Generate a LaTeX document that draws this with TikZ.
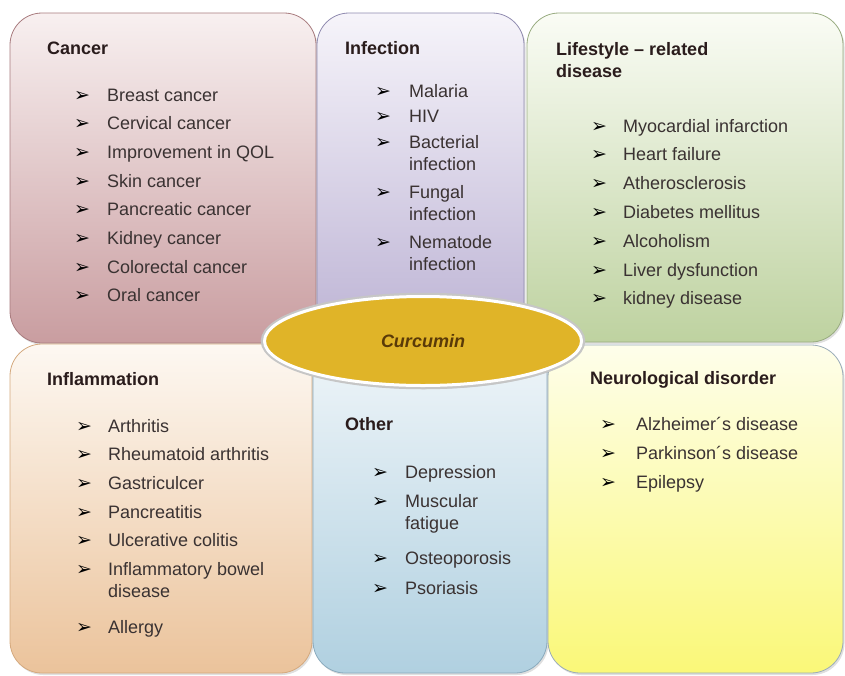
\documentclass[tikz,border=0pt]{standalone}
\usepackage{fontspec}
\setmainfont{Liberation Sans}
\newfontfamily\dingfont{DejaVu Sans}
\usetikzlibrary{shapes.geometric,shadows}
\definecolor{inktext}{HTML}{3A3232}
\definecolor{inkhead}{HTML}{2A1C1C}
\definecolor{rosetop}{HTML}{F8F0F0}
\definecolor{rosebot}{HTML}{C99DA0}
\definecolor{roseline}{HTML}{A87B7E}
\definecolor{lilactop}{HTML}{F6F4FA}
\definecolor{lilacbot}{HTML}{B9AFD2}
\definecolor{lilacline}{HTML}{8F8AAF}
\definecolor{sagetop}{HTML}{FAFCF5}
\definecolor{sagebot}{HTML}{BED2A0}
\definecolor{sageline}{HTML}{98AB80}
\definecolor{sandtop}{HTML}{FDF8F2}
\definecolor{sandbot}{HTML}{EBC39B}
\definecolor{sandline}{HTML}{D4A97E}
\definecolor{skytop}{HTML}{F2F7FA}
\definecolor{skybot}{HTML}{B0D0E0}
\definecolor{skyline}{HTML}{8AAABD}
\definecolor{lemontop}{HTML}{FEFEEB}
\definecolor{lemonbot}{HTML}{FAF878}
\definecolor{lemonline}{HTML}{9AACB8}
\definecolor{gold}{HTML}{E0B428}
\definecolor{goldtext}{HTML}{5A3A08}
\tikzset{panel/.style={rounded corners=32pt,line width=0.8pt,drop shadow={opacity=0.25,shadow xshift=1.5pt,shadow yshift=-2pt}},
  head/.style={anchor=base west,inner sep=0pt,align=left,text=inkhead,font=\fontsize{18}{22}\selectfont\bfseries},
  entry/.style={anchor=base west,inner sep=0pt,align=left,text=inktext,font=\fontsize{18}{22}\selectfont},
  bul/.style={anchor=base west,inner sep=0pt,text=black,font=\dingfont\fontsize{19}{20}\selectfont}}

\begin{document}
\begin{tikzpicture}[x=1pt,y=-1pt]
\useasboundingbox (0,0) rectangle (845,675);
% the six panels
\draw[panel,top color=rosetop,bottom color=rosebot,draw=roseline] (10,13) rectangle (316,343);
\draw[panel,top color=lilactop,bottom color=lilacbot,draw=lilacline] (317,13) rectangle (524,360);
\draw[panel,top color=sagetop,bottom color=sagebot,draw=sageline] (527,13) rectangle (843,342);
\draw[panel,top color=sandtop,bottom color=sandbot,draw=sandline] (10,344) rectangle (312,673);
\draw[panel,top color=skytop,bottom color=skybot,draw=skyline] (313,330) rectangle (547,673);
\draw[panel,top color=lemontop,bottom color=lemonbot,draw=lemonline] (548,345) rectangle (843,673);
% centre
\node[ellipse,minimum width=320pt,minimum height=92pt,inner sep=0pt,fill=gold,draw=gray!45,line width=4.5pt,
  drop shadow={opacity=0.3,shadow xshift=1.5pt,shadow yshift=-2pt}] (cur) at (423,341) {};
\draw[white,line width=3pt] (cur.center) ellipse [x radius=158.5pt,y radius=44.5pt];
\node[text=goldtext,font=\fontsize{18}{22}\selectfont\bfseries\itshape] (curtext) at (cur.center) {Curcumin};
% Cancer
\node[head] (hcan) at (47,54) {Cancer};
\foreach \t [count=\i] in {Breast cancer,Cervical cancer,Improvement in QOL,Skin cancer,Pancreatic cancer,Kidney cancer,Colorectal cancer,Oral cancer}{
  \node[bul] (canb\i) at (74,{72.3+28.7*\i}) {➢};
  \node[entry] (cant\i) at (107,{72.3+28.7*\i}) {\t};
}
% Infection (\b = first baseline, \y = last baseline)
\node[head] (hinf) at (345,54) {Infection};
\foreach \b/\y/\t [count=\i] in {97/97/Malaria,122/122/HIV,148/170/{Bacterial\\infection},198/220/{Fungal\\infection},248/270/{Nematode\\infection}}{
  \node[bul] (infb\i) at (375,\b) {➢};
  \node[entry] (inft\i) at (409,\y) {\t};
}
% Lifestyle
\node[head] (hlif) at (556,77) {Lifestyle – related\\disease};
\foreach \t [count=\i] in {Myocardial infarction,Heart failure,Atherosclerosis,Diabetes mellitus,Alcoholism,Liver dysfunction,kidney disease}{
  \node[bul] (lifb\i) at (591,{103.2+28.8*\i}) {➢};
  \node[entry] (lift\i) at (623,{103.2+28.8*\i}) {\t};
}
% Inflammation
\node[head] (hinfl) at (47,385) {Inflammation};
\foreach \b/\y/\t [count=\i] in {432/432/Arthritis,460.7/460.7/Rheumatoid arthritis,489.4/489.4/Gastriculcer,518/518/Pancreatitis,546.8/546.8/Ulcerative colitis,575.5/597.5/{Inflammatory bowel\\disease},633/633/Allergy}{
  \node[bul] (inflb\i) at (76,\b) {➢};
  \node[entry] (inflt\i) at (108,\y) {\t};
}
% Other
\node[head] (hoth) at (345,430) {Other};
\foreach \b/\y/\t [count=\i] in {478/478/Depression,507/529/{Muscular\\fatigue},564/564/Osteoporosis,594/594/Psoriasis}{
  \node[bul] (othb\i) at (372,\b) {➢};
  \node[entry] (otht\i) at (405,\y) {\t};
}
% Neurological disorder
\node[head] (hneu) at (590,384) {Neurological disorder};
\foreach \y/\t [count=\i] in {430/Alzheimer´s disease,459/Parkinson´s disease,488/Epilepsy}{
  \node[bul] (neub\i) at (600,\y) {➢};
  \node[entry] (neut\i) at (636,\y) {\t};
}
\end{tikzpicture}
\end{document}
